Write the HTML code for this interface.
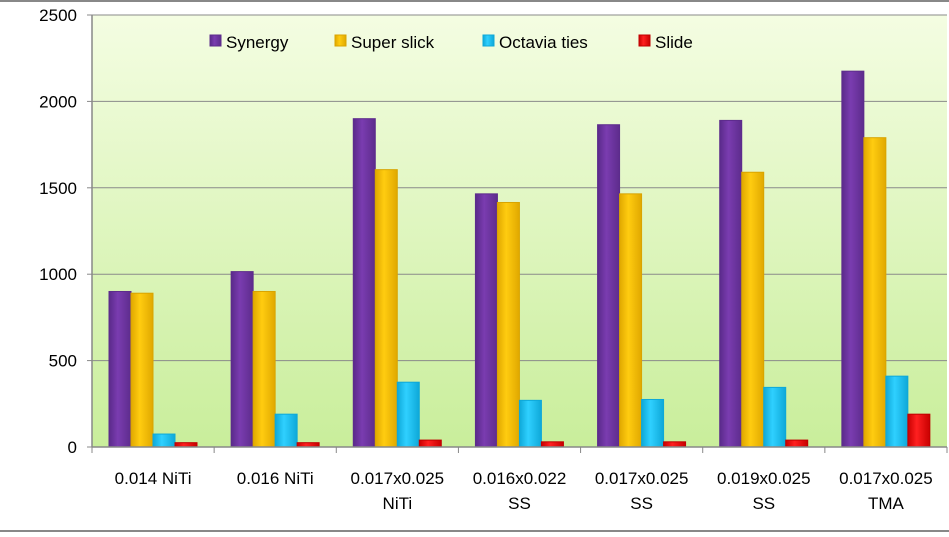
<!DOCTYPE html>
<html><head><meta charset="utf-8"><style>
body{margin:0;width:949px;height:532px;overflow:hidden;background:#fff;font-family:"Liberation Sans",sans-serif}
</style></head><body>
<svg width="949" height="532" xmlns="http://www.w3.org/2000/svg">
<defs>
<linearGradient id="bg" x1="0" y1="0" x2="0" y2="1"><stop offset="0" stop-color="#f4fde2"/><stop offset="1" stop-color="#c9ee9b"/></linearGradient>
<linearGradient id="g0" x1="0" x2="1"><stop offset="0" stop-color="#5a2a8a"/><stop offset=".4" stop-color="#7a3cb0"/><stop offset="1" stop-color="#5d2c8c"/></linearGradient>
<linearGradient id="g1" x1="0" x2="1"><stop offset="0" stop-color="#e0a800"/><stop offset=".4" stop-color="#ffcc10"/><stop offset="1" stop-color="#e0a800"/></linearGradient>
<linearGradient id="g2" x1="0" x2="1"><stop offset="0" stop-color="#0ea8d8"/><stop offset=".4" stop-color="#2fd0ff"/><stop offset="1" stop-color="#0ea8d8"/></linearGradient>
<linearGradient id="g3" x1="0" x2="1"><stop offset="0" stop-color="#c80000"/><stop offset=".4" stop-color="#ff2020"/><stop offset="1" stop-color="#c80000"/></linearGradient>
</defs>
<rect x="0" y="0" width="949" height="2" fill="#888"/>
<rect x="0" y="530" width="949" height="2" fill="#888"/>
<rect x="92" y="15" width="855" height="432" fill="url(#bg)"/>
<g id="grid"></g><g id="bars"></g><g id="axes"></g><g id="legend"></g>
</svg>
<script>
const categories=[["0.014 NiTi"],["0.016 NiTi"],["0.017x0.025","NiTi"],["0.016x0.022","SS"],["0.017x0.025","SS"],["0.019x0.025","SS"],["0.017x0.025","TMA"]];
const seriesNames=["Synergy","Super slick","Octavia ties","Slide"];
const synergy=[900,1015,1900,1465,1865,1890,2175];
const superSlick=[890,900,1605,1415,1465,1590,1790];
const octavia=[75,190,375,270,275,345,410];
const slide=[25,25,40,30,30,40,190];
const yTicks=[0,500,1000,1500,2000,2500];
const series=[synergy,superSlick,octavia,slide];
const NS="http://www.w3.org/2000/svg";
const x0=92,x1=947,y0=447,y1=15,ymax=2500;
const gw=(x1-x0)/categories.length,bw=22;
const Y=v=>y0-(v/ymax)*(y0-y1);
const X=(i,s)=>x0+i*gw+17+s*bw;
function mk(t,a,p){const e=document.createElementNS(NS,t);for(const k in a)e.setAttribute(k,a[k]);p.appendChild(e);return e;}
const grid=document.getElementById('grid'),bars=document.getElementById('bars'),axes=document.getElementById('axes'),leg=document.getElementById('legend');
yTicks.forEach(v=>{
 if(v>0){const l=mk('line',{x1:x0,x2:x1,y1:Y(v),y2:Y(v),stroke:'#8a8a8a','stroke-width':1},grid);
 
 }
 const tk=mk('line',{x1:x0-5,x2:x0,y1:Y(v),y2:Y(v),stroke:'#888'},axes);
 
 
 const t=mk('text',{x:77,y:Y(v)+6,'text-anchor':'end','font-size':17,fill:'#000'},axes);t.textContent=v;
 
 
});
const colors=['#5d2c8c','#d9a400','#0ea8d8','#c00000'];
series.forEach((arr,s)=>arr.forEach((v,i)=>{
 const r=mk('rect',{x:X(i,s),y:Y(v),width:bw,height:y0-Y(v),fill:`url(#g${s})`,stroke:colors[s],'stroke-width':1},bars);
 
 
}));
const ax=mk('line',{x1:x0,x2:x1,y1:y0,y2:y0,stroke:'#888','stroke-width':1.5},axes);


const ay=mk('line',{x1:x0,x2:x0,y1:y1,y2:y0,stroke:'#888','stroke-width':1.5},axes);


for(let i=0;i<=categories.length;i++){const t=mk('line',{x1:x0+i*gw,x2:x0+i*gw,y1:y0,y2:y0+6,stroke:'#888'},axes);
 
 }
categories.forEach((c,i)=>{c.forEach((ln,j)=>{
 const t=mk('text',{x:x0+(i+.5)*gw,y:484+j*25,'text-anchor':'middle','font-size':17,fill:'#000'},axes);t.textContent=ln;
 
 });});
const lx=[210,335,483,639];
seriesNames.forEach((n,s)=>{
 const m=mk('rect',{x:lx[s],y:35,width:11,height:11,fill:`url(#g${s})`,stroke:colors[s]},leg);
 
 
 const t=mk('text',{x:lx[s]+16,y:48,'font-size':17,fill:'#000'},leg);t.textContent=n;
 
 
});
</script>
</body></html>
